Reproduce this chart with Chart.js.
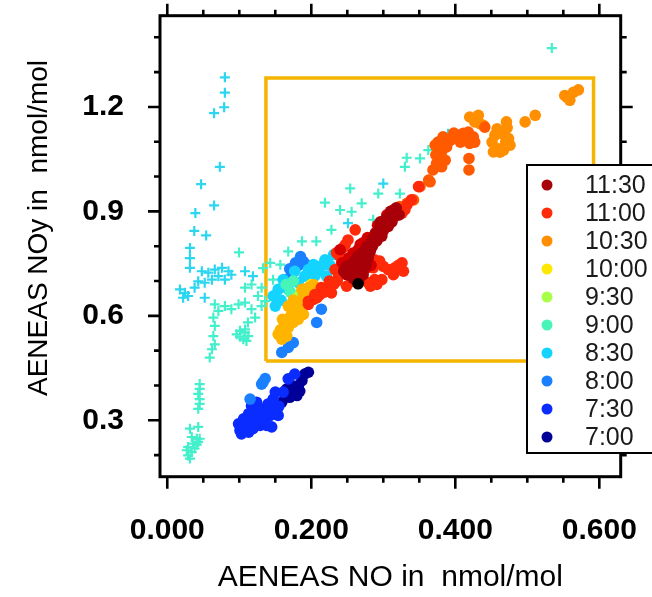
<!DOCTYPE html>
<html>
<head>
<meta charset="utf-8">
<script src="https://cdn.jsdelivr.net/npm/chart.js@4.4.1/dist/chart.umd.min.js"></script>
<style>
  body { margin: 0; background: #fff; }
</style>
</head>
<body>
<canvas id="chart-noy" width="652" height="597"></canvas>
<script>
// axis ticks (minor every 0.05 / 0.1, labels on the majors only)
var xTicks = [0, 0.05, 0.1, 0.15, 0.2, 0.25, 0.3, 0.35, 0.4, 0.45, 0.5, 0.55, 0.6];
var xMajor = [0, 0.2, 0.4, 0.6];
var yTicks = [0.2, 0.3, 0.4, 0.5, 0.6, 0.7, 0.8, 0.9, 1.0, 1.1, 1.2, 1.3, 1.4];
var yMajor = [0.3, 0.6, 0.9, 1.2];

// legend entries (top to bottom)
var legendLabels = ["11:30", "11:00", "10:30", "10:00", "9:30", "9:00", "8:30", "8:00", "7:30", "7:00"];

// selected region (orange box) corners
var boxX = [0.137, 0.137, 0.592, 0.592, 0.137];
var boxY = [0.470, 1.283, 1.283, 0.470, 0.470];

// NO / NOy pairs, coloured by flight time
var ptsBlack = [[0.265, 0.692]];
var pts1130 = [[0.261,0.761],[0.265,0.772],[0.270,0.742],[0.275,0.757],[0.256,0.733],[0.249,0.718],[0.263,0.718],[0.270,0.781],[0.277,0.799],[0.284,0.818],[0.289,0.838],[0.295,0.852],[0.302,0.866],[0.309,0.880],[0.316,0.895],[0.307,0.857],[0.298,0.829],[0.291,0.815],[0.282,0.786],[0.279,0.766],[0.261,0.704],[0.272,0.718],[0.249,0.742],[0.256,0.748],[0.268,0.730],[0.285,0.800],[0.293,0.835],[0.300,0.845],[0.312,0.870],[0.322,0.890],[0.245,0.728],[0.258,0.708],[0.266,0.700],[0.280,0.778],[0.287,0.823],[0.262,0.725],[0.253,0.722],[0.276,0.745],[0.296,0.870],[0.304,0.880],[0.318,0.910],[0.310,0.900]];
var pts1115 = [[0.252,0.766],[0.243,0.752],[0.265,0.790],[0.275,0.735],[0.283,0.745],[0.258,0.780],[0.240,0.790],[0.272,0.810],[0.292,0.860],[0.305,0.890],[0.315,0.905],[0.296,0.842],[0.278,0.825],[0.268,0.805]];
var pts1100 = [[0.196,0.633],[0.203,0.647],[0.212,0.661],[0.221,0.676],[0.231,0.690],[0.238,0.714],[0.233,0.733],[0.242,0.752],[0.235,0.781],[0.247,0.804],[0.251,0.818],[0.261,0.847],[0.249,0.685],[0.256,0.699],[0.279,0.695],[0.288,0.704],[0.288,0.761],[0.295,0.757],[0.286,0.738],[0.282,0.685],[0.291,0.690],[0.298,0.704],[0.307,0.733],[0.316,0.738],[0.326,0.752],[0.328,0.728],[0.314,0.718],[0.205,0.661],[0.214,0.681],[0.228,0.666],[0.326,0.895],[0.333,0.919],[0.339,0.933],[0.349,0.971],[0.316,0.885],[0.196,0.642],[0.225,0.700],[0.240,0.770],[0.244,0.795],[0.208,0.652],[0.218,0.668],[0.236,0.700],[0.244,0.724],[0.300,0.742],[0.321,0.745],[0.285,0.695],[0.330,0.905],[0.320,0.900]];
var pts1045 = [[0.376,1.099],[0.383,1.114],[0.393,1.104],[0.402,1.119],[0.411,1.124],[0.418,1.128],[0.425,1.114],[0.427,1.099],[0.420,1.095],[0.407,1.099],[0.388,1.085],[0.381,1.071],[0.379,1.052],[0.374,1.038],[0.381,1.028],[0.369,1.019],[0.386,1.047],[0.365,0.985],[0.351,0.971],[0.363,0.990],[0.342,0.933],[0.333,0.923],[0.323,0.914],[0.419,1.052],[0.419,1.019],[0.441,1.142],[0.372,1.090],[0.396,1.112],[0.415,1.110],[0.378,1.080],[0.385,1.095],[0.398,1.125],[0.373,1.062]];
var pts1030 = [[0.420,1.171],[0.432,1.176],[0.434,1.152],[0.458,1.137],[0.464,1.124],[0.471,1.157],[0.474,1.109],[0.476,1.090],[0.467,1.076],[0.453,1.071],[0.451,1.099],[0.455,1.119],[0.497,1.157],[0.511,1.176],[0.555,1.228],[0.564,1.242],[0.571,1.249],[0.559,1.219],[0.552,1.233],[0.427,1.157],[0.439,1.147],[0.470,1.100],[0.460,1.080],[0.472,1.140],[0.462,1.070]];
var pts1015 = [[0.154,0.547],[0.161,0.557],[0.168,0.566],[0.175,0.581],[0.182,0.590],[0.189,0.604],[0.173,0.609],[0.168,0.628],[0.180,0.638],[0.189,0.657],[0.196,0.681],[0.203,0.690],[0.187,0.676],[0.159,0.533],[0.166,0.542],[0.157,0.560],[0.163,0.575],[0.178,0.600],[0.194,0.668],[0.182,0.625],[0.170,0.595],[0.160,0.590],[0.175,0.645]];
var pts1000 = [[0.200,0.690],[0.189,0.676],[0.176,0.620],[0.192,0.650]];
var pts930 = [[0.180,0.652],[0.185,0.664]];
var pts900 = [[0.171,0.668],[0.165,0.690],[0.175,0.700]];
var pts830 = [[0.150,0.628],[0.147,0.657],[0.161,0.704],[0.177,0.728],[0.203,0.747],[0.219,0.761],[0.231,0.776],[0.191,0.714],[0.168,0.676],[0.154,0.676],[0.210,0.728],[0.221,0.714],[0.196,0.733],[0.226,0.745],[0.240,0.785],[0.182,0.695],[0.163,0.690],[0.205,0.715],[0.215,0.745],[0.158,0.645]];
var pts800 = [[0.189,0.756],[0.182,0.745],[0.170,0.735],[0.173,0.720],[0.164,0.704],[0.159,0.495],[0.168,0.509],[0.175,0.523],[0.2075,0.581],[0.214,0.619],[0.133,0.409],[0.131,0.404],[0.136,0.420],[0.115,0.361],[0.195,0.745],[0.185,0.770],[0.178,0.752]];
var pts730 = [[0.101,0.271],[0.099,0.290],[0.106,0.304],[0.113,0.319],[0.108,0.281],[0.115,0.290],[0.122,0.304],[0.119,0.276],[0.129,0.285],[0.133,0.299],[0.126,0.318],[0.133,0.333],[0.140,0.347],[0.147,0.361],[0.154,0.314],[0.143,0.314],[0.145,0.281],[0.117,0.342],[0.124,0.352],[0.177,0.433],[0.168,0.419],[0.103,0.261],[0.113,0.266],[0.138,0.285],[0.161,0.381],[0.150,0.381],[0.155,0.340],[0.128,0.328],[0.110,0.300],[0.120,0.318],[0.138,0.320],[0.148,0.335],[0.104,0.282]];
var pts700 = [[0.166,0.390],[0.173,0.400],[0.182,0.400],[0.180,0.371],[0.187,0.414],[0.196,0.438],[0.191,0.433],[0.170,0.366],[0.159,0.352],[0.184,0.384],[0.176,0.385]];

// second instrument track (crosses)
var crossCyan = [[0.080,1.285],[0.080,1.241],[0.079,1.199],[0.065,1.182],[0.073,1.028],[0.047,0.978],[0.065,0.917],[0.039,0.895],[0.0375,0.844],[0.054,0.831],[0.0315,0.795],[0.0315,0.766],[0.0315,0.738],[0.048,0.728],[0.057,0.724],[0.066,0.733],[0.076,0.738],[0.085,0.728],[0.071,0.714],[0.062,0.704],[0.052,0.695],[0.043,0.699],[0.080,0.704],[0.089,0.718],[0.108,0.728],[0.119,0.714],[0.0176,0.676],[0.0246,0.666],[0.022,0.652],[0.029,0.657],[0.038,0.681],[0.052,0.652],[0.300,0.980],[0.251,0.866],[0.390,1.123]];
var crossAqua = [[0.066,0.633],[0.071,0.614],[0.064,0.595],[0.066,0.571],[0.064,0.542],[0.066,0.518],[0.062,0.504],[0.059,0.480],[0.080,0.628],[0.089,0.619],[0.099,0.633],[0.108,0.638],[0.117,0.619],[0.122,0.595],[0.112,0.581],[0.108,0.561],[0.126,0.657],[0.136,0.642],[0.131,0.681],[0.117,0.690],[0.108,0.681],[0.0996,0.782],[0.0964,0.547],[0.101,0.557],[0.108,0.552],[0.1125,0.542],[0.1056,0.533],[0.110,0.528],[0.101,0.540],[0.045,0.404],[0.045,0.390],[0.043,0.376],[0.045,0.361],[0.045,0.347],[0.043,0.333],[0.0315,0.276],[0.043,0.281],[0.034,0.252],[0.041,0.247],[0.045,0.247],[0.029,0.223],[0.036,0.233],[0.043,0.238],[0.034,0.209],[0.029,0.199],[0.038,0.219],[0.0315,0.190],[0.041,0.230],[0.027,0.214],[0.293,0.951],[0.323,0.951],[0.254,0.966],[0.219,0.925],[0.240,0.904],[0.256,0.899],[0.270,0.923],[0.228,0.847],[0.207,0.814],[0.187,0.814],[0.168,0.785],[0.157,0.747],[0.143,0.752],[0.133,0.737],[0.147,0.704],[0.131,0.628],[0.286,0.876],[0.330,1.028],[0.351,1.052],[0.3625,1.076],[0.3325,1.054],[0.534,1.369]];

var colors = {
  black: "#000000", t1130: "#a80008", t1115: "#d40000", t1100: "#ff2a0a", t1045: "#ff5a00",
  t1030: "#ff8f00", t1015: "#ffb400", t1000: "#ffe800", t930: "#a8ff48", t900: "#48f5b8",
  t830: "#14d4ff", t800: "#1a80ff", t730: "#0a2cff", t700: "#000099",
  cyan: "#2ad6f0", aqua: "#44f0cc", box: "#f5b400"
};
var legendColors = [colors.t1130, colors.t1100, colors.t1030, colors.t1000, colors.t930,
                    colors.t900, colors.t830, colors.t800, colors.t730, colors.t700];

function toXY(pts) {
  return pts.map(function (p) { return { x: p[0], y: p[1] }; });
}
function dots(label, pts, color) {
  return { label: label, data: toXY(pts), backgroundColor: color, borderWidth: 0,
           pointRadius: 5.8, pointHoverRadius: 5.8 };
}
function crosses(label, pts, color) {
  return { label: label, data: toXY(pts), pointStyle: "cross", borderColor: color,
           backgroundColor: color, borderWidth: 2.2, pointRadius: 5, pointHoverRadius: 5 };
}

var fontFamily = "'Liberation Sans', Arial, Helvetica, sans-serif";

function isIn(v, list) {
  for (var i = 0; i < list.length; i++) {
    if (Math.abs(list[i] - v) < 1e-6) return true;
  }
  return false;
}

// no extra room for half labels at the axis ends
function noPad(scale) {
  scale.paddingLeft = 0;
  scale.paddingRight = 0;
  scale.paddingTop = 0;
  scale.paddingBottom = 0;
}

// frame, outward tick marks, axis titles and the time legend
var framePlugin = {
  id: "ncl_frame",
  afterDraw: function (chart) {
    var ctx = chart.ctx;
    var a = chart.chartArea;
    var sx = chart.scales.x, sy = chart.scales.y;
    ctx.save();
    ctx.strokeStyle = "#000";
    ctx.lineWidth = 3;
    ctx.strokeRect(a.left, a.top, a.right - a.left, a.bottom - a.top);

    ctx.lineWidth = 2.6;
    ctx.beginPath();
    xTicks.forEach(function (v) {
      var px = sx.getPixelForValue(v);
      var len = isIn(v, xMajor) ? 12 : 6;
      ctx.moveTo(px, a.bottom); ctx.lineTo(px, a.bottom + len);
      ctx.moveTo(px, a.top); ctx.lineTo(px, a.top - len);
    });
    yTicks.forEach(function (v) {
      var py = sy.getPixelForValue(v);
      var len = isIn(v, yMajor) ? 12 : 6;
      ctx.moveTo(a.left, py); ctx.lineTo(a.left - len, py);
      ctx.moveTo(a.right, py); ctx.lineTo(a.right + len, py);
    });
    ctx.stroke();

    // axis titles
    ctx.fillStyle = "#000";
    ctx.textAlign = "center";
    ctx.textBaseline = "middle";
    ctx.font = "30px " + fontFamily;
    ctx.fillText("AENEAS NO in  nmol/mol", (a.left + a.right) / 2, 578);
    ctx.save();
    ctx.translate(39, 228);
    ctx.rotate(-Math.PI / 2);
    ctx.font = "28px " + fontFamily;
    ctx.fillText("AENEAS NOy in  nmol/mol", 0, 0);
    ctx.restore();

    // legend box
    ctx.fillStyle = "#fff";
    ctx.fillRect(527, 165, 140, 288);
    ctx.lineWidth = 2;
    ctx.strokeRect(527, 165, 140, 288);
    ctx.font = "25px " + fontFamily;
    ctx.textAlign = "left";
    for (var i = 0; i < legendLabels.length; i++) {
      var ly = 185 + i * 28;
      ctx.fillStyle = legendColors[i];
      ctx.beginPath();
      ctx.arc(547, ly, 5.5, 0, Math.PI * 2);
      ctx.fill();
      ctx.fillStyle = "#1a1a1a";
      ctx.fillText(legendLabels[i], 585, ly + 1);
    }
    ctx.restore();
  }
};

var chartCanvas = document.getElementById("chart-noy").getContext("2d");
var noyChart = new Chart(chartCanvas, {
  type: "scatter",
  data: {
    datasets: [
      dots("black", ptsBlack, colors.black),
      dots("11:30", pts1130, colors.t1130),
      dots("11:15", pts1115, colors.t1115),
      dots("11:00", pts1100, colors.t1100),
      dots("10:45", pts1045, colors.t1045),
      dots("10:30", pts1030, colors.t1030),
      dots("10:15", pts1015, colors.t1015),
      dots("10:00", pts1000, colors.t1000),
      dots("9:30", pts930, colors.t930),
      dots("9:00", pts900, colors.t900),
      dots("8:30", pts830, colors.t830),
      dots("8:00", pts800, colors.t800),
      dots("7:30", pts730, colors.t730),
      dots("7:00", pts700, colors.t700),
      crosses("cross cyan", crossCyan, colors.cyan),
      crosses("cross aqua", crossAqua, colors.aqua),
      {
        type: "line", label: "box",
        data: boxX.map(function (x, i) { return { x: x, y: boxY[i] }; }),
        borderColor: colors.box, borderWidth: 3.5, pointRadius: 0,
        fill: false, tension: 0, borderJoinStyle: "miter"
      }
    ]
  },
  options: {
    responsive: false,
    animation: false,
    layout: { padding: { left: 0, top: 15.7, right: 31.3, bottom: 0 } },
    plugins: { legend: { display: false }, tooltip: { enabled: false } },
    scales: {
      x: {
        type: "linear", position: "bottom", min: -0.0101, max: 0.6297,
        afterBuildTicks: function (scale) {
          scale.ticks = xTicks.map(function (v) { return { value: v }; });
        },
        afterFit: function (scale) { scale.height = 120.3; noPad(scale); },
        grid: { display: false },
        border: { display: false },
        ticks: {
          autoSkip: false, maxRotation: 0, padding: 28, color: "#000",
          font: { family: fontFamily, size: 30, weight: "bold" },
          callback: function (v) { return isIn(v, xMajor) ? v.toFixed(3) : ""; }
        }
      },
      y: {
        type: "linear", position: "left", min: 0.138, max: 1.462,
        afterBuildTicks: function (scale) {
          scale.ticks = yTicks.map(function (v) { return { value: v }; });
        },
        afterFit: function (scale) { scale.width = 160; noPad(scale); },
        grid: { display: false },
        border: { display: false },
        ticks: {
          autoSkip: false, padding: 28, color: "#000",
          font: { family: fontFamily, size: 30, weight: "bold" },
          callback: function (v) { return isIn(v, yMajor) ? v.toFixed(1) : ""; }
        }
      }
    }
  },
  plugins: [framePlugin]
});
</script>
</body>
</html>
